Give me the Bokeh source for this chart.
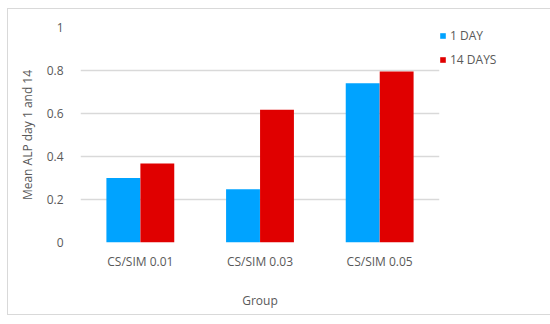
from bokeh.plotting import figure
from bokeh.models import ColumnDataSource, FactorRange, Legend, LegendItem
from bokeh.transform import dodge
from bokeh.embed import file_html
from bokeh.resources import INLINE

groups = ["CS/SIM 0.01", "CS/SIM 0.03", "CS/SIM 0.05"]
day1 = [0.30, 0.248, 0.741]
day14 = [0.367, 0.617, 0.795]
series_names = ["1 DAY", "14 DAYS"]
y_ticks = [0, 0.2, 0.4, 0.6, 0.8, 1]

FONT = "Open Sans"
TXT = "#595959"

src = ColumnDataSource(dict(g=groups, d1=day1, d14=day14))

p = figure(x_range=FactorRange(*groups), y_range=(0, 1),
           frame_width=359, frame_height=215,
           output_backend="svg", toolbar_location=None,
           min_border_left=72, min_border_right=103, min_border_top=18, min_border_bottom=72)
p.margin = (8, 0, 0, 7)
p.styles = {"border": "1px solid #d9d9d9"}
p.outline_line_color = None
p.background_fill_color = "white"
p.border_fill_color = "white"

r1 = p.vbar(x=dodge("g", -0.142, range=p.x_range), top="d1", width=0.283, source=src,
            fill_color="#00A3FF", line_color=None)
r2 = p.vbar(x=dodge("g", 0.142, range=p.x_range), top="d14", width=0.283, source=src,
            fill_color="#E00000", line_color=None)

p.x_range.range_padding = 0

p.xgrid.grid_line_color = None
p.ygrid.grid_line_color = "#d9d9d9"
p.ygrid.grid_line_width = 1.5
p.yaxis.ticker = y_ticks
p.yaxis.major_label_overrides = {0: "0", 1: "1"}

for ax in (p.xaxis[0], p.yaxis[0]):
    ax.axis_line_color = None
    ax.major_tick_line_color = None
    ax.minor_tick_line_color = None
    ax.major_tick_out = 0
    ax.major_tick_in = 0
    ax.minor_tick_out = 0
    ax.major_label_text_font = FONT
    ax.major_label_text_font_size = "12px"
    ax.major_label_text_color = TXT
    ax.axis_label_text_font = FONT
    ax.axis_label_text_font_size = "12px"
    ax.axis_label_text_color = TXT
    ax.axis_label_text_font_style = "normal"

p.xaxis.axis_label = "Group"
p.yaxis.axis_label = "Mean ALP day 1 and 14"
p.yaxis.major_label_standoff = 17
p.yaxis.axis_label_standoff = 8
p.xaxis.major_label_standoff = 10
p.xaxis.axis_label_standoff = 19

legend = Legend(items=[LegendItem(label=series_names[0], renderers=[r1]),
                       LegendItem(label=series_names[1], renderers=[r2])],
                location="top_left", orientation="vertical")
legend.glyph_width = 7
legend.glyph_height = 7
legend.label_height = 13
legend.label_standoff = 4
legend.spacing = 7
legend.padding = 0
legend.margin = 0
legend.border_line_color = None
legend.background_fill_alpha = 0
legend.label_text_font = FONT
legend.label_text_font_size = "12px"
legend.label_text_color = TXT
p.add_layout(legend, "right")

open("out.html", "w").write(file_html(p, INLINE))
